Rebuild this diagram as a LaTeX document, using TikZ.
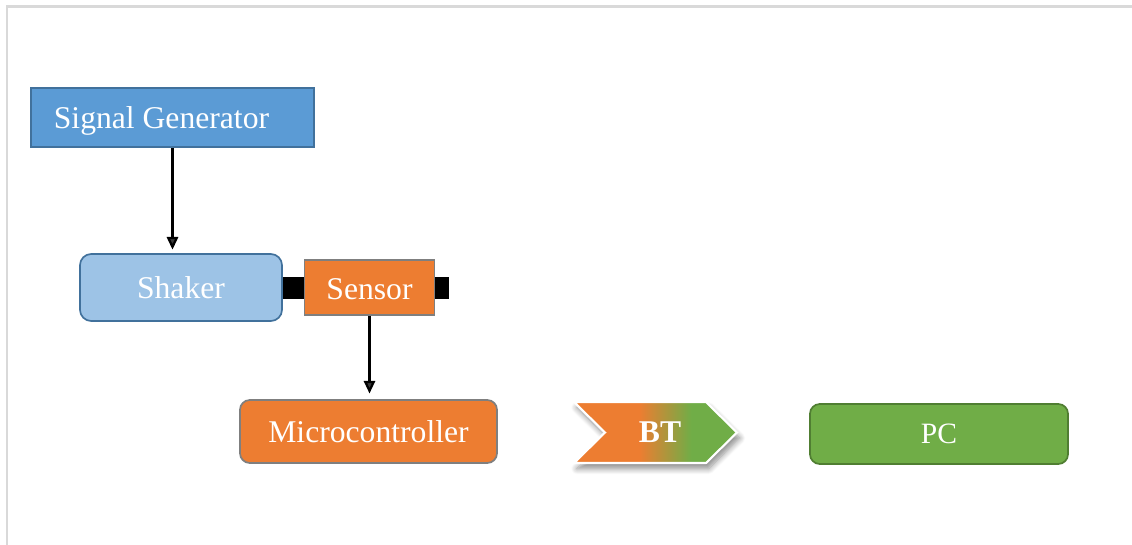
\documentclass[tikz,border=0pt]{standalone}
\usepackage{fontspec}
\setmainfont{Liberation Serif}
\usetikzlibrary{arrows.meta,shadows.blur}
\definecolor{genBlue}{RGB}{91,155,213}
\definecolor{edgeBlue}{RGB}{65,113,156}
\definecolor{shakerBlue}{RGB}{157,195,230}
\definecolor{sensOrange}{RGB}{237,125,49}
\definecolor{edgeGray}{RGB}{127,127,127}
\definecolor{pcGreen}{RGB}{112,173,71}
\definecolor{edgeGreen}{RGB}{80,126,50}
\definecolor{frameGray}{RGB}{217,217,217}
\pgfdeclarehorizontalshading{btfade}{100bp}{color(0bp)=(sensOrange); color(45bp)=(sensOrange); color(61bp)=(pcGreen); color(100bp)=(pcGreen)}
\newcommand{\BoxFont}{\fontsize{22.5}{27}\selectfont}

\begin{document}
\begin{tikzpicture}[x=0.025cm,y=-0.025cm,
  box/.style={draw,line width=1.2pt,text=white,font=\BoxFont,inner sep=0pt,text depth=0pt},
  mount/.style={fill=black,minimum height=0.55cm,inner sep=0pt},
  flow/.style={-{Triangle[width=8pt,length=9pt]},line width=1.6pt}]
\useasboundingbox (0,0) rectangle (1132,545);
\draw[frameGray,line width=1.5pt] (7,545) -- (7,6.5) -- (1132,6.5);

\node[box,fill=genBlue,draw=edgeBlue,minimum width=7.075cm,minimum height=1.475cm] (sg) at (172.5,117.5) {Signal Generator\hspace*{0.55cm}};

% black mounts behind the sensor
\node[mount,minimum width=0.575cm] (mountL) at (293.5,288) {};
\node[mount,minimum width=0.35cm] (mountR) at (442,288) {};

\node[box,fill=shakerBlue,draw=edgeBlue,rounded corners=8pt,minimum width=5.05cm,minimum height=1.675cm] (shaker) at (181,287.5) {Shaker};
\node[box,fill=sensOrange,draw=edgeGray,minimum width=3.25cm,minimum height=1.375cm] (sensor) at (369.5,287.5) {\raisebox{-2pt}{Sensor}};
\node[box,fill=sensOrange,draw=edgeGray,rounded corners=7pt,minimum width=6.425cm,minimum height=1.575cm] (micro) at (368.5,431.5) {Microcontroller};
\node[box,fill=pcGreen,draw=edgeGreen,rounded corners=7pt,minimum width=6.45cm,minimum height=1.5cm,font=\fontsize{21}{25}\selectfont] (pc) at (939,434) {PC};

% bluetooth chevron
\path[shading=btfade,draw=white,line width=1.5pt,
  blur shadow={shadow xshift=2pt,shadow yshift=-4pt,shadow blur radius=4pt,shadow blur steps=8,shadow opacity=45}]
  (574,402) -- (706,402) -- (737,432.5) -- (706,463) -- (574,463) -- (605,432.5) -- cycle;
\node[text=white,font=\bfseries\BoxFont,text depth=0pt] (bt) at (660,432) {BT};

\draw[flow,shorten >=2.5pt] (sg.south) -- (sg.south |- shaker.north);
\draw[flow,shorten >=4pt] (sensor.south) -- (sensor.south |- micro.north);
\end{tikzpicture}
\end{document}
